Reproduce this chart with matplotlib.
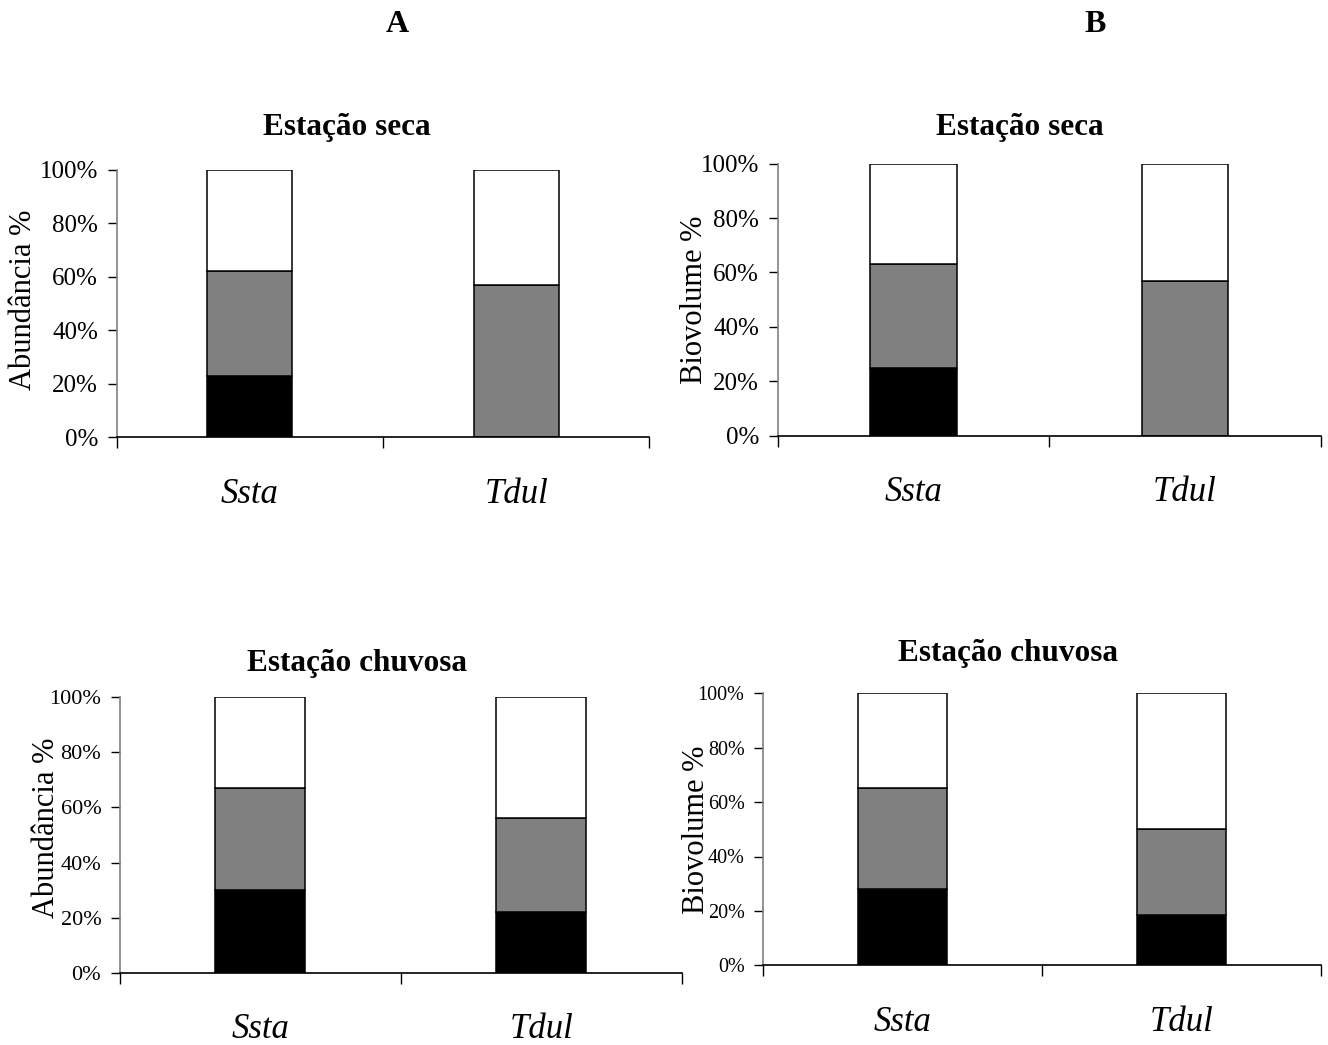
import matplotlib
matplotlib.use("Agg")
import matplotlib.pyplot as plt
import numpy as np

W, H = 1328, 1045
categories = ["Ssta", "Tdul"]

# stacked proportions (%) per panel: black (bottom), gray (middle), white (top)
abund_seca_black = [23, 0]
abund_seca_gray = [39, 57]
abund_seca_white = [38, 43]

bio_seca_black = [25, 0]
bio_seca_gray = [38, 57]
bio_seca_white = [37, 43]

abund_chuv_black = [30, 22]
abund_chuv_gray = [37, 34]
abund_chuv_white = [33, 44]

bio_chuv_black = [28, 18.5]
bio_chuv_gray = [37, 31.5]
bio_chuv_white = [35, 50]

yticks = [0, 20, 40, 60, 80, 100]
ytick_labels = ["0%", "20%", "40%", "60%", "80%", "100%"]

plt.rcParams['font.family'] = ['Liberation Serif', 'DejaVu Serif']

fig = plt.figure(figsize=(W / 100, H / 100), dpi=100)


def px_axes(left, right, top, bottom):
    return [left / W, 1 - bottom / H, (right - left) / W, (bottom - top) / H]


panels = [
    dict(box=(116.7, 649.3, 170, 437), data=(abund_seca_black, abund_seca_gray, abund_seca_white),
         ylabel="Abundância %", ylab_xy=(24, 300), title="Estação seca", title_xy=(347, 128),
         tick_fs=18, base_y=503, occlude=False),
    dict(box=(777.7, 1320.7, 163.7, 435.7), data=(bio_seca_black, bio_seca_gray, bio_seca_white),
         ylabel="Biovolume %", ylab_xy=(695, 300), title="Estação seca", title_xy=(1020, 128),
         tick_fs=18, base_y=501, occlude=True),
    dict(box=(120, 681.7, 697.3, 972.7), data=(abund_chuv_black, abund_chuv_gray, abund_chuv_white),
         ylabel="Abundância %", ylab_xy=(47, 828), title="Estação chuvosa", title_xy=(357, 664),
         tick_fs=16, base_y=1038, occlude=False),
    dict(box=(763.3, 1320.7, 693.3, 965.3), data=(bio_chuv_black, bio_chuv_gray, bio_chuv_white),
         ylabel="Biovolume %", ylab_xy=(696, 830), title="Estação chuvosa", title_xy=(1008, 654),
         tick_fs=14.5, base_y=1031, occlude=True),
]

x = np.arange(len(categories))
bw = 0.32
for p in panels:
    left, right, top, bottom = p["box"]
    ax = fig.add_axes(px_axes(left, right, top, bottom))
    ax.patch.set_visible(False)
    black, gray, white = [np.array(v, dtype=float) for v in p["data"]]
    ax.bar(x, black, width=bw, color="black", edgecolor="black", linewidth=1.1)
    ax.bar(x, gray, width=bw, bottom=black, color="#808080", edgecolor="black", linewidth=1.1)
    ax.bar(x, white, width=bw, bottom=black + gray, color="white", edgecolor="black", linewidth=1.1)
    ax.set_xlim(-0.5, len(categories) - 0.5)
    ax.set_ylim(0, 100)
    ax.set_yticks(yticks)
    ax.set_yticklabels(ytick_labels, fontsize=p["tick_fs"])
    ax.set_xticks(np.arange(len(categories) + 1) - 0.5)
    ax.set_xticklabels([])
    ax.tick_params(axis="y", direction="out", length=6.5, width=1, color="black", pad=7)
    ax.tick_params(axis="x", direction="out", length=8, width=1, color="black")
    for s in ("top", "right"):
        ax.spines[s].set_visible(False)
    ax.spines["left"].set_color("#808080")
    ax.spines["left"].set_linewidth(1.2)
    ax.spines["bottom"].set_color("black")
    ax.spines["bottom"].set_linewidth(1.2)
    if p["occlude"]:
        for lab in ax.get_yticklabels():
            lab.set_bbox(dict(facecolor="white", edgecolor="none", pad=0.5))
    # category labels
    yb = (bottom - p["base_y"]) / (bottom - top)
    for i, c in enumerate(categories):
        ax.text(i, yb, c, transform=ax.get_xaxis_transform(), ha="center", va="baseline",
                fontsize=25, fontstyle="italic")
    # y label
    fig.text(p["ylab_xy"][0] / W, 1 - p["ylab_xy"][1] / H, p["ylabel"], rotation=90,
             ha="center", va="center", fontsize=22, zorder=-1)
    fig.text(p["title_xy"][0] / W, 1 - p["title_xy"][1] / H, p["title"],
             ha="center", va="center", fontsize=22.5, fontweight="bold")

fig.text(397 / W, 1 - 25 / H, "A", ha="center", va="center", fontsize=23, fontweight="bold")
fig.text(1095 / W, 1 - 25 / H, "B", ha="center", va="center", fontsize=23, fontweight="bold")

fig.savefig("out.png", dpi=100, facecolor="white")
